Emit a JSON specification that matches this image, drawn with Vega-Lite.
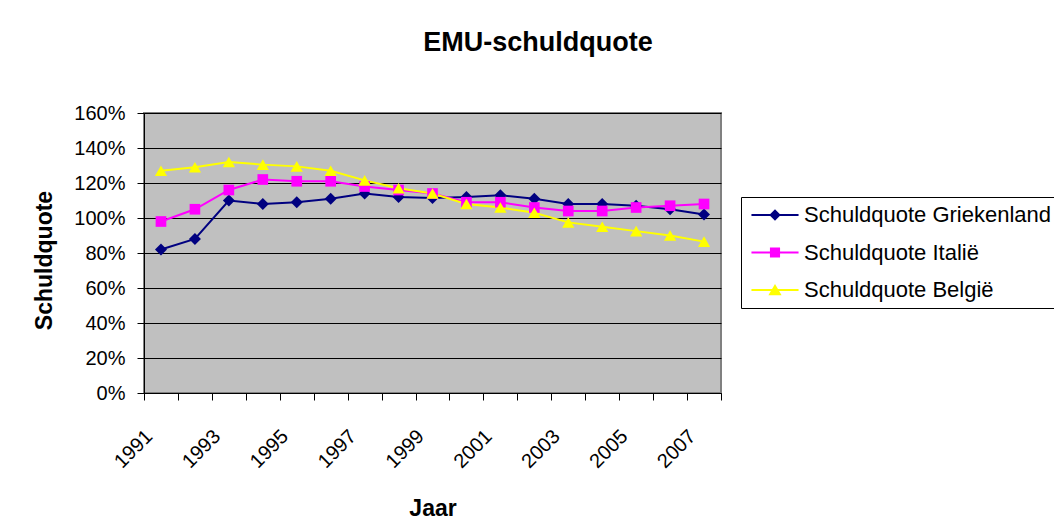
{
  "$schema": "https://vega.github.io/schema/vega-lite/v6.json",
  "width": 577,
  "height": 280,
  "autosize": {"type": "none"},
  "padding": {"left": 144, "top": 113, "right": 333, "bottom": 136},
  "background": "#ffffff",
  "title": {"text": "EMU-schuldquote", "font": "Liberation Sans", "fontSize": 27, "fontWeight": "bold", "color": "#000000", "anchor": "middle", "frame": "group", "dx": 105.5, "offset": 46},
  "data": {"values": [
    {"jaar": 1991, "land": "Schuldquote Griekenland", "quote": 0.82},
    {"jaar": 1992, "land": "Schuldquote Griekenland", "quote": 0.88},
    {"jaar": 1993, "land": "Schuldquote Griekenland", "quote": 1.10},
    {"jaar": 1994, "land": "Schuldquote Griekenland", "quote": 1.08},
    {"jaar": 1995, "land": "Schuldquote Griekenland", "quote": 1.09},
    {"jaar": 1996, "land": "Schuldquote Griekenland", "quote": 1.11},
    {"jaar": 1997, "land": "Schuldquote Griekenland", "quote": 1.14},
    {"jaar": 1998, "land": "Schuldquote Griekenland", "quote": 1.12},
    {"jaar": 1999, "land": "Schuldquote Griekenland", "quote": 1.115},
    {"jaar": 2000, "land": "Schuldquote Griekenland", "quote": 1.12},
    {"jaar": 2001, "land": "Schuldquote Griekenland", "quote": 1.13},
    {"jaar": 2002, "land": "Schuldquote Griekenland", "quote": 1.11},
    {"jaar": 2003, "land": "Schuldquote Griekenland", "quote": 1.08},
    {"jaar": 2004, "land": "Schuldquote Griekenland", "quote": 1.08},
    {"jaar": 2005, "land": "Schuldquote Griekenland", "quote": 1.07},
    {"jaar": 2006, "land": "Schuldquote Griekenland", "quote": 1.05},
    {"jaar": 2007, "land": "Schuldquote Griekenland", "quote": 1.02},
    {"jaar": 1991, "land": "Schuldquote Italië", "quote": 0.98},
    {"jaar": 1992, "land": "Schuldquote Italië", "quote": 1.05},
    {"jaar": 1993, "land": "Schuldquote Italië", "quote": 1.16},
    {"jaar": 1994, "land": "Schuldquote Italië", "quote": 1.22},
    {"jaar": 1995, "land": "Schuldquote Italië", "quote": 1.21},
    {"jaar": 1996, "land": "Schuldquote Italië", "quote": 1.21},
    {"jaar": 1997, "land": "Schuldquote Italië", "quote": 1.18},
    {"jaar": 1998, "land": "Schuldquote Italië", "quote": 1.16},
    {"jaar": 1999, "land": "Schuldquote Italië", "quote": 1.14},
    {"jaar": 2000, "land": "Schuldquote Italië", "quote": 1.09},
    {"jaar": 2001, "land": "Schuldquote Italië", "quote": 1.09},
    {"jaar": 2002, "land": "Schuldquote Italië", "quote": 1.06},
    {"jaar": 2003, "land": "Schuldquote Italië", "quote": 1.04},
    {"jaar": 2004, "land": "Schuldquote Italië", "quote": 1.04},
    {"jaar": 2005, "land": "Schuldquote Italië", "quote": 1.06},
    {"jaar": 2006, "land": "Schuldquote Italië", "quote": 1.07},
    {"jaar": 2007, "land": "Schuldquote Italië", "quote": 1.08},
    {"jaar": 1991, "land": "Schuldquote België", "quote": 1.27},
    {"jaar": 1992, "land": "Schuldquote België", "quote": 1.29},
    {"jaar": 1993, "land": "Schuldquote België", "quote": 1.32},
    {"jaar": 1994, "land": "Schuldquote België", "quote": 1.305},
    {"jaar": 1995, "land": "Schuldquote België", "quote": 1.295},
    {"jaar": 1996, "land": "Schuldquote België", "quote": 1.27},
    {"jaar": 1997, "land": "Schuldquote België", "quote": 1.215},
    {"jaar": 1998, "land": "Schuldquote België", "quote": 1.17},
    {"jaar": 1999, "land": "Schuldquote België", "quote": 1.14},
    {"jaar": 2000, "land": "Schuldquote België", "quote": 1.08},
    {"jaar": 2001, "land": "Schuldquote België", "quote": 1.06},
    {"jaar": 2002, "land": "Schuldquote België", "quote": 1.03},
    {"jaar": 2003, "land": "Schuldquote België", "quote": 0.975},
    {"jaar": 2004, "land": "Schuldquote België", "quote": 0.95},
    {"jaar": 2005, "land": "Schuldquote België", "quote": 0.925},
    {"jaar": 2006, "land": "Schuldquote België", "quote": 0.90},
    {"jaar": 2007, "land": "Schuldquote België", "quote": 0.865}
  ]},
  "encoding": {
    "x": {
      "field": "jaar", "type": "ordinal",
      "scale": {"type": "band", "paddingInner": 0, "paddingOuter": 0},
      "axis": {
        "title": "Jaar", "titleFont": "Liberation Sans", "titleFontSize": 23, "titleFontWeight": "bold", "titleColor": "#000000", "titlePadding": 26,
        "labelFont": "Liberation Sans", "labelFontSize": 20, "labelColor": "#000000", "labelAngle": -45, "labelAlign": "right", "labelBaseline": "middle",
        "labelPadding": 33, "labelOffset": -12, "labelOverlap": false,
        "labelExpr": "datum.value % 2 == 1 ? datum.label : ''",
        "tickBand": "extent", "tickSize": 7, "tickColor": "#000000", "domainColor": "#000000", "grid": false
      }
    },
    "y": {
      "field": "quote", "type": "quantitative",
      "scale": {"domain": [0, 1.6], "nice": false},
      "axis": {
        "title": "Schuldquote", "titleFont": "Liberation Sans", "titleFontSize": 23, "titleFontWeight": "bold", "titleColor": "#000000", "titlePadding": 17, "titleY": 147,
        "values": [0, 0.2, 0.4, 0.6, 0.8, 1, 1.2, 1.4, 1.6], "format": ".0%",
        "labelFont": "Liberation Sans", "labelFontSize": 20, "labelColor": "#000000", "labelPadding": 12,
        "tickSize": 7, "tickColor": "#000000", "domainColor": "#000000",
        "grid": true, "gridColor": "#000000", "gridOpacity": 1
      }
    },
    "color": {
      "field": "land", "type": "nominal",
      "scale": {"domain": ["Schuldquote Griekenland", "Schuldquote Italië", "Schuldquote België"], "range": ["#000080", "#FF00FF", "#FFFF00"]},
      "legend": {
        "title": null, "orient": "none", "legendX": 597, "legendY": 84,
        "padding": 7, "strokeColor": "#000000", "fillColor": "#ffffff",
        "symbolSize": 484, "symbolStrokeWidth": 0, "symbolOffset": 16,
        "symbolType": {"expr": "datum.value === 'Schuldquote Griekenland' ? 'M-2.14,-0.09H2.14V0.09H-2.14ZM0,-0.52L0.52,0L0,0.52L-0.52,0Z' : datum.value === 'Schuldquote Italië' ? 'M-2.14,-0.09H2.14V0.09H-2.14ZM-0.46,-0.46H0.46V0.46H-0.46Z' : 'M-2.14,-0.09H2.14V0.09H-2.14ZM0,-0.55L0.6,0.48L-0.6,0.48Z'"},
        "labelOffset": 18, "rowPadding": 15.5,
        "labelFont": "Liberation Sans", "labelFontSize": 22, "labelColor": "#000000", "labelLimit": 500
      }
    }
  },
  "layer": [
    {"mark": {"type": "line", "strokeWidth": 2}},
    {
      "transform": [{"filter": "datum.land === 'Schuldquote Griekenland'"}],
      "mark": {"type": "point", "filled": true, "opacity": 1, "shape": "diamond", "size": 144}
    },
    {
      "transform": [{"filter": "datum.land === 'Schuldquote Italië'"}],
      "mark": {"type": "point", "filled": true, "opacity": 1, "shape": "square", "size": 114}
    },
    {
      "transform": [{"filter": "datum.land === 'Schuldquote België'"}],
      "mark": {"type": "point", "filled": true, "opacity": 1, "shape": "triangle-up", "size": 150}
    }
  ],
  "config": {
    "font": "Liberation Sans",
    "view": {"stroke": "#808080", "strokeWidth": 2, "fill": "#C0C0C0"}
  }
}
